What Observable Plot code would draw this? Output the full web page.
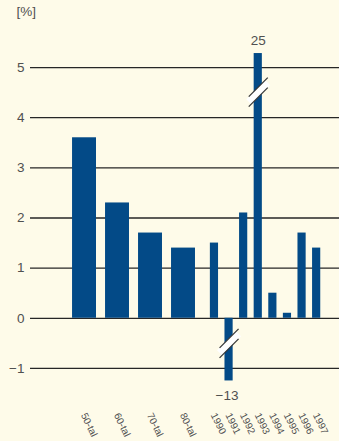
<!DOCTYPE html>
<html>
<head>
<meta charset="utf-8">
<script src="https://cdn.jsdelivr.net/npm/d3@7"></script>
<script src="https://cdn.jsdelivr.net/npm/@observablehq/plot@0.6"></script>
<style>
  html, body { margin: 0; padding: 0; background: #fefbe9; }
  #chart svg { display: block; }
</style>
</head>
<body>
<div id="chart"></div>
<script>
// ---- data ----
const categories = ["50-tal", "60-tal", "70-tal", "80-tal", "1990", "1991", "1992", "1993", "1994", "1995", "1996", "1997"];
const groups     = ["decade", "decade", "decade", "decade", "year", "year", "year", "year", "year", "year", "year", "year"];
const values     = [3.6, 2.3, 1.7, 1.4, 1.5, -13, 2.1, 25, 0.5, 0.1, 1.7, 1.4];
const yTicks     = [-1, 0, 1, 2, 3, 4, 5];
const axisCap    = [-1.25, 5.28];   // broken-axis display limits
const breakAt    = [-0.5, 4.51];    // where the break symbol sits

// ---- layout (in slot units: one year slot) ----
const W = 339, H = 441;
const mL = 30, mR = 0, mT = 37, mB = 43;
const xMax = (W - mL - mR) / 14.6;
const yDom = [-1.6, 5.6];
const pxPerX = (W - mL - mR) / xMax;
const pxPerY = (H - mT - mB) / (yDom[1] - yDom[0]);

let decadeIdx = 0, yearIdx = 0;
const data = categories.map((c, i) => {
  const g = groups[i];
  let cx, w;
  if (g === "decade") { cx = 3.7 + 2.26 * decadeIdx++; w = 1.64; }
  else { cx = 12.6 + yearIdx++; w = 0.56; }
  const v = values[i];
  const shown = Math.max(axisCap[0], Math.min(axisCap[1], v));
  return {cat: c, group: g, cx, x1: cx - w / 2, x2: cx + w / 2, value: v, shown, broken: shown !== v};
});
const broken = data.filter(d => d.broken).map(d => ({
  ...d,
  by: d.value > 0 ? breakAt[1] : breakAt[0]
}));
const brokenUp = broken.filter(d => d.value > 0);
const brokenDown = broken.filter(d => d.value < 0);
const hx = 9.5 / pxPerX, hy = 9.5 / pxPerY;

const fmt = d3.format("d");
const textColor = "#505050";
const font = "'Liberation Sans', Arial, Helvetica, sans-serif";

const chart = Plot.plot({
  width: W, height: H,
  marginLeft: mL, marginRight: mR, marginTop: mT, marginBottom: mB,
  style: {background: "#fefbe9", fontFamily: font, overflow: "visible"},
  x: {domain: [0, xMax], axis: null},
  y: {domain: yDom, axis: null},
  marks: [
    Plot.ruleY(yTicks, {stroke: "#262626", strokeWidth: 1.3}),
    Plot.text(yTicks, {x: 0, y: d => d, text: d => fmt(d), textAnchor: "end", dx: -6, fontSize: 13.5, fill: textColor}),
    Plot.text(["[%]"], {x: 0, y: yDom[1], text: d => d, textAnchor: "start", dx: -14, dy: -26, fontSize: 13.5, fill: textColor}),
    Plot.rect(data, {x1: "x1", x2: "x2", y1: 0, y2: "shown", fill: "#034a87"}),
    // break symbols
    Plot.link(broken, {x1: d => d.cx - hx, y1: d => d.by - hy, x2: d => d.cx + hx, y2: d => d.by + hy, stroke: "#ffffff", strokeWidth: 7, strokeLinecap: "butt"}),
    Plot.link(broken, {x1: d => d.cx - hx, y1: d => d.by - hy, x2: d => d.cx + hx, y2: d => d.by + hy, stroke: "#333", strokeWidth: 1.2, dy: -5}),
    Plot.link(broken, {x1: d => d.cx - hx, y1: d => d.by - hy, x2: d => d.cx + hx, y2: d => d.by + hy, stroke: "#333", strokeWidth: 1.2, dy: 5}),
    // actual values of broken bars
    Plot.text(brokenUp, {x: "cx", y: "shown", text: d => fmt(d.value), dy: -13, fontSize: 13.5, fill: textColor}),
    Plot.text(brokenDown, {x: "cx", y: "shown", text: d => fmt(d.value), dy: 15, dx: -2, fontSize: 13.5, fill: textColor}),
    // category labels
    Plot.text(data, {x: "cx", y: yDom[0], text: "cat", rotate: 64, textAnchor: "start", dy: 15, dx: -1, fontSize: 10, fill: textColor})
  ]
});
document.getElementById("chart").appendChild(chart);
</script>
</body>
</html>
